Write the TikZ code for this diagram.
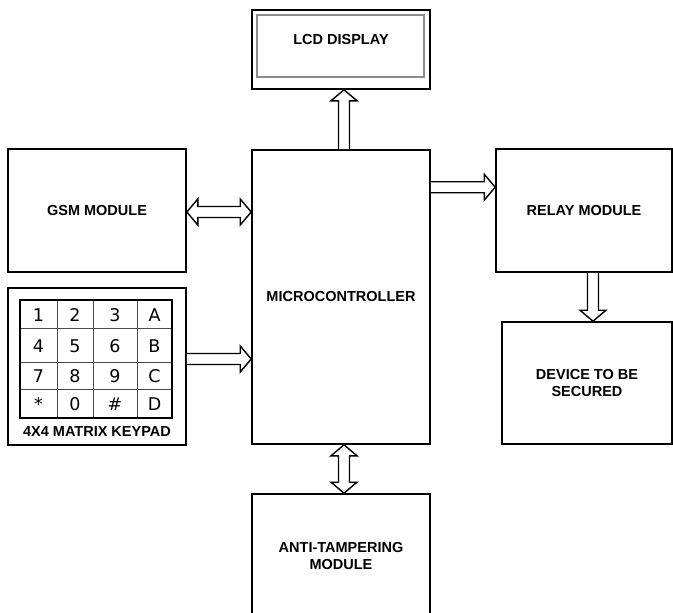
\documentclass[tikz,border=0pt]{standalone}
\usepackage{fontspec}
\setmainfont{Liberation Sans}
\newfontfamily\keyfont{DejaVu Sans}
\usepackage{tikz}
\usetikzlibrary{calc}
\tikzset{
	block/.style={draw, line width=1.6pt, inner sep=0pt, align=center, font=\fontsize{14.5}{17}\selectfont\bfseries},
	arrowline/.style={draw, line width=1.4pt, fill=white, line join=miter},
	keyline/.style={line width=0.8pt, color=black!70},
	keytext/.style={font=\keyfont\fontsize{17.5}{19}\selectfont, inner sep=0pt}
}
% hollow block arrow, from (#1) to (#2)
\def\blockarrow(#1)(#2){%
	\coordinate (ba-h) at ($(#2)!11pt!(#1)$);
	\draw[arrowline] ($(#1)!5.5pt!90:(#2)$) -- ($(ba-h)!5.5pt!90:(#2)$) -- ($(ba-h)!13pt!90:(#2)$) -- (#2) -- ($(ba-h)!13pt!-90:(#2)$) -- ($(ba-h)!5.5pt!-90:(#2)$) -- ($(#1)!5.5pt!-90:(#2)$);
}
% hollow block arrow with two heads
\def\dblockarrow(#1)(#2){%
	\coordinate (ba-a) at ($(#1)!11pt!(#2)$);
	\coordinate (ba-b) at ($(#2)!11pt!(#1)$);
	\draw[arrowline] (#1) -- ($(ba-a)!13pt!90:(#2)$) -- ($(ba-a)!5.5pt!90:(#2)$) -- ($(ba-b)!5.5pt!90:(#2)$) -- ($(ba-b)!13pt!90:(#2)$) -- (#2) -- ($(ba-b)!13pt!-90:(#2)$) -- ($(ba-b)!5.5pt!-90:(#2)$) -- ($(ba-a)!5.5pt!-90:(#2)$) -- ($(ba-a)!13pt!-90:(#2)$) -- cycle;
}

\begin{document}
\begin{tikzpicture}[x=1pt, y=-1pt]
			%%%%% START %%%%%
			\useasboundingbox (0, 0) rectangle (673, 613);
			\clip (0, 0) rectangle (673, 613);
			
			% lcd
			\node[block, minimum width=178pt, minimum height=79pt] (lcd) at (341, 49.5) {};
			\node[draw, line width=1.8pt, color=black!45, minimum width=167pt, minimum height=62pt] (lcdglass) at (340.5, 46) {};
			\node[font=\fontsize{14.5}{17}\selectfont\bfseries] (lcdtext) at (341, 40) {LCD DISPLAY};
			
			% blocks
			\node[block, minimum width=178pt, minimum height=294pt] (mcu) at (341, 297) {MICROCONTROLLER};
			\node[block, minimum width=178pt, minimum height=123pt] (gsm) at (97, 210.5) {GSM MODULE};
			\node[block, minimum width=178pt, minimum height=157pt] (keypad) at (97, 366.5) {};
			\node[block, minimum width=176pt, minimum height=123pt] (relay) at (584, 210.5) {RELAY MODULE};
			\node[block, minimum width=170pt, minimum height=122pt] (device) at (587, 383) {DEVICE TO BE\\SECURED};
			\node[block, minimum width=178pt, minimum height=125pt] (anti) at (341, 556.5) {ANTI-TAMPERING\\MODULE};
			
			% keypad grid
			\foreach \x in {57, 93, 137}
				\draw[keyline] (\x, 300) -- (\x, 418);
			\foreach \y in {328, 362, 389}
				\draw[keyline] (20, \y) -- (172, \y);
			\draw[line width=1.8pt] (20, 300) rectangle (172, 418);
			\foreach \k [count=\i from 0] in {1,2,3,A,4,5,6,B,7,8,9,C,*,0,\#,D} {
				\pgfmathsetmacro{\kx}{{38.5,75,115,154.5}[mod(\i,4)]}
				\pgfmathsetmacro{\ky}{{315,346,376.5,404.5}[int(\i/4)]}
				\node[keytext] (key\i) at (\kx, \ky) {\k};
			}
			\node[font=\fontsize{14.5}{17}\selectfont\bfseries] (keypadtext) at (97, 432) {4X4 MATRIX KEYPAD};
			
			% arrows
			\coordinate (lcdarrow) at ($(mcu.north)+(3, 0)$);
			\blockarrow(lcdarrow)(lcdarrow |- lcd.south)
			\coordinate (gsmarrow) at ($(gsm.east)+(0, 1.5)$);
			\dblockarrow(gsmarrow)(gsmarrow -| mcu.west)
			\coordinate (keyarrow) at ($(keypad.east)+(0, -7.5)$);
			\blockarrow(keyarrow)(keyarrow -| mcu.west)
			\coordinate (relayarrow) at ($(mcu.north east)+(0, 38)$);
			\blockarrow(relayarrow)(relayarrow -| relay.west)
			\coordinate (devarrow) at ($(relay.south)+(9, 0)$);
			\blockarrow(devarrow)(devarrow |- device.north)
			\coordinate (antiarrow) at ($(mcu.south)+(3, 0)$);
			\dblockarrow(antiarrow)(antiarrow |- anti.north)
			
			%%%%% END %%%%%
\end{tikzpicture}
\end{document}
